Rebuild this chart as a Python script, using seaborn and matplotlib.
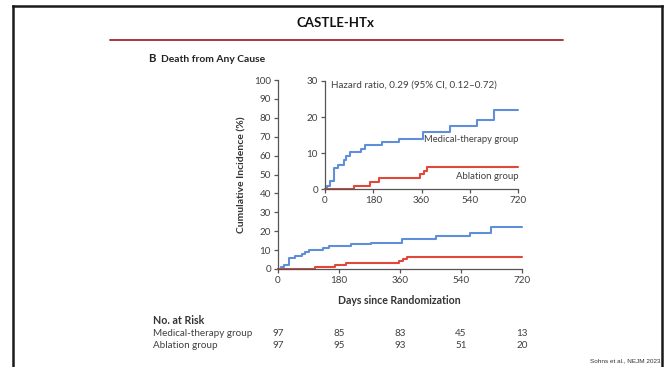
import matplotlib
matplotlib.use("Agg")
import matplotlib.pyplot as plt
import matplotlib.transforms as mtransforms
from matplotlib.lines import Line2D
import numpy as np
import pandas as pd
import seaborn as sns

# Kaplan-Meier style cumulative incidence (percent) by day since randomization
medical_days = [0, 9, 17, 32, 49, 70, 80, 92, 134, 150, 214, 275, 365, 466, 567, 629, 720]
medical_pct = [0, 1.0, 2.2, 5.8, 6.8, 8.0, 9.2, 10.3, 11.3, 12.2, 13.0, 14.0, 16.0, 17.4, 19.2, 22.0, 22.0]
ablation_days = [0, 110, 168, 202, 356, 368, 382, 720]
ablation_pct = [0, 0.9, 1.9, 3.1, 4.1, 5.1, 6.2, 6.2]

groups = ["Medical-therapy group", "Ablation group"]
colors = ["#5F8FD8", "#E0483A"]

risk_times = [0, 180, 360, 540, 720]
risk_medical = [97, 85, 83, 45, 13]
risk_ablation = [97, 95, 93, 51, 20]

main_yticks = list(range(0, 101, 10))
inset_yticks = [0, 10, 20, 30]
xticks = [0, 180, 360, 540, 720]

df = pd.concat([
    pd.DataFrame({"day": medical_days, "pct": medical_pct, "group": groups[0]}),
    pd.DataFrame({"day": ablation_days, "pct": ablation_pct, "group": groups[1]}),
], ignore_index=True)

sns.set_theme(style="white")
plt.rcParams["font.family"] = ["Lato", "DejaVu Sans"]

W, H = 667, 367
fig = plt.figure(figsize=(W / 100, H / 100), dpi=100)
fig.patch.set_facecolor("white")


def fx(px):
    return px / W


def fy(py):
    return 1 - py / H


# slide frame
frame = dict(color="#1a1a1a", lw=1.8, transform=fig.transFigure, solid_capstyle="projecting")
fig.add_artist(Line2D([fx(13.5), fx(13.5)], [0, fy(5.5)], **frame))
fig.add_artist(Line2D([fx(13.5), fx(662)], [fy(5.5), fy(5.5)], **frame))
fig.add_artist(Line2D([fx(662), fx(662)], [fy(5.5), 0], **frame))

fig.text(fx(335), fy(23), "CASTLE-HTx", ha="center", va="center",
         fontsize=9.5, fontweight="bold", color="#111111")
fig.add_artist(Line2D([fx(110), fx(563)], [fy(40), fy(40)], color="#A0282C",
                      lw=1.3, transform=fig.transFigure))

fig.text(fx(148), fy(59), "B", ha="left", va="center", fontsize=8.2,
         fontweight="bold", color="#222222")
fig.text(fx(161), fy(59), "Death from Any Cause", ha="left", va="center",
         fontsize=7.4, fontweight="bold", color="#222222")

spine_c = "#555555"
label_c = "#404040"
fs = 7.1


def style_axes(ax, yticks, ymax):
    sns.despine(ax=ax)
    for s in ("left", "bottom"):
        ax.spines[s].set_color(spine_c)
        ax.spines[s].set_linewidth(0.9)
    ax.set_xlim(0, 720)
    ax.set_ylim(0, ymax)
    ax.set_xticks(xticks)
    ax.set_yticks(yticks)
    ax.tick_params(axis="both", direction="out", length=3, width=0.9,
                   color=spine_c, labelcolor=label_c, labelsize=fs, pad=2,
                   left=True, bottom=True)
    ax.set_xlabel("")
    ax.set_ylabel("")
    ax.set_facecolor("none")
    leg = ax.get_legend()
    if leg is not None:
        leg.remove()


# main panel
ax = fig.add_axes([fx(278), fy(269), fx(522) - fx(278), fy(80) - fy(269)])
sns.lineplot(data=df, x="day", y="pct", hue="group", hue_order=groups,
             palette=colors, drawstyle="steps-post", estimator=None,
             sort=False, lw=1.5, ax=ax, clip_on=False)
style_axes(ax, main_yticks, 100)

# inset panel
axi = fig.add_axes([fx(325), fy(189.3), fx(518) - fx(325), fy(81) - fy(189.3)])
sns.lineplot(data=df, x="day", y="pct", hue="group", hue_order=groups,
             palette=colors, drawstyle="steps-post", estimator=None,
             sort=False, lw=1.5, ax=axi, clip_on=False)
style_axes(axi, inset_yticks, 30)
axi.text(22, 28.8, "Hazard ratio, 0.29 (95% CI, 0.12\u20130.72)", ha="left",
         va="center", fontsize=fs, color=label_c)
axi.text(722, 13.8, groups[0], ha="right", va="center", fontsize=6.75, color=label_c)
axi.text(722, 3.5, groups[1], ha="right", va="center", fontsize=6.9, color=label_c)

fig.text(fx(241.5), fy(175), "Cumulative Incidence (%)", rotation=90,
         ha="center", va="center", fontsize=7.5, fontweight="bold", color="#333333")
fig.text(fx(399.5), fy(300), "Days since Randomization", ha="center",
         va="center", fontsize=7.6, fontweight="bold", color="#333333")

# number at risk table
fig.text(fx(153), fy(320), "No. at Risk", ha="left", va="center", fontsize=7.7,
         fontweight="bold", color="#333333")
blend = mtransforms.blended_transform_factory(ax.transData, fig.transFigure)
for name, counts, py in [(groups[0], risk_medical, 333), (groups[1], risk_ablation, 345)]:
    fig.text(fx(153), fy(py), name, ha="left", va="center", fontsize=fs, color=label_c)
    for t, n in zip(risk_times, counts):
        ax.text(t, fy(py), str(n), transform=blend, ha="center", va="center",
                fontsize=fs, color=label_c)

fig.text(fx(661), fy(361), "Sohns et al., NEJM 2023", ha="right", va="center",
         fontsize=4.6, color="#333333", family="Liberation Sans")

fig.savefig("out.png", dpi=100)
